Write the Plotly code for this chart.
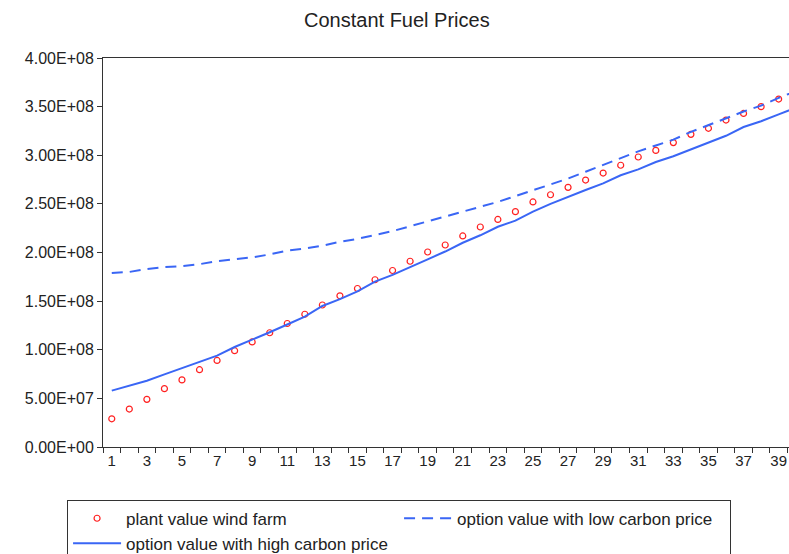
import plotly.graph_objects as go

years = list(range(1, 41))

plant_value = [
    0.29e8, 0.39e8, 0.49e8, 0.60e8, 0.69e8, 0.795e8, 0.89e8, 0.99e8, 1.08e8, 1.175e8,
    1.27e8, 1.365e8, 1.46e8, 1.555e8, 1.63e8, 1.72e8, 1.815e8, 1.91e8, 2.005e8, 2.077e8,
    2.17e8, 2.262e8, 2.34e8, 2.42e8, 2.52e8, 2.594e8, 2.67e8, 2.745e8, 2.817e8, 2.897e8,
    2.982e8, 3.05e8, 3.13e8, 3.215e8, 3.277e8, 3.362e8, 3.43e8, 3.50e8, 3.578e8, 3.647e8,
]

option_low_carbon = [
    1.79e8, 1.80e8, 1.83e8, 1.85e8, 1.86e8, 1.88e8, 1.91e8, 1.93e8, 1.95e8, 1.98e8,
    2.02e8, 2.04e8, 2.07e8, 2.11e8, 2.14e8, 2.18e8, 2.22e8, 2.27e8, 2.32e8, 2.37e8,
    2.42e8, 2.47e8, 2.52e8, 2.58e8, 2.64e8, 2.70e8, 2.76e8, 2.83e8, 2.90e8, 2.97e8,
    3.04e8, 3.10e8, 3.16e8, 3.24e8, 3.31e8, 3.38e8, 3.45e8, 3.51e8, 3.59e8, 3.66e8,
]

option_high_carbon = [
    0.58e8, 0.627e8, 0.682e8, 0.747e8, 0.809e8, 0.877e8, 0.939e8, 1.028e8, 1.10e8, 1.18e8,
    1.26e8, 1.34e8, 1.45e8, 1.52e8, 1.60e8, 1.70e8, 1.77e8, 1.854e8, 1.93e8, 2.01e8,
    2.10e8, 2.177e8, 2.265e8, 2.327e8, 2.42e8, 2.50e8, 2.574e8, 2.643e8, 2.71e8, 2.794e8,
    2.855e8, 2.93e8, 2.99e8, 3.06e8, 3.13e8, 3.20e8, 3.29e8, 3.35e8, 3.42e8, 3.49e8,
]

y_ticks = [i * 0.5e8 for i in range(9)]
x_labels = list(range(1, 40, 2))

BLUE = "#3a66f5"

fig = go.Figure()
fig.add_trace(go.Scatter(
    x=years, y=plant_value, mode="markers", name="plant value wind farm",
    marker=dict(symbol="circle-open", size=6, color="#ff2020", line=dict(width=1.2)),
))
fig.add_trace(go.Scatter(
    x=years, y=option_low_carbon, mode="lines", name="option value with low carbon price",
    line=dict(color=BLUE, width=2, dash="11px,7px"),
))
fig.add_trace(go.Scatter(
    x=years, y=option_high_carbon, mode="lines", name="option value with high carbon price",
    line=dict(color=BLUE, width=2),
))

fig.update_layout(
    width=789, height=554,
    margin=dict(l=103, r=0, t=58, b=107, autoexpand=False),
    plot_bgcolor="white", paper_bgcolor="white",
    font=dict(family="Liberation Sans, Arial, sans-serif", size=15, color="#222"),
    title=dict(text="Constant Fuel Prices", x=0.503, xanchor="center",
               y=0.964, yanchor="middle", font=dict(size=20, color="#222")),
    showlegend=True,
    legend=dict(
        orientation="h", xref="container", yref="container",
        x=0.085, xanchor="left", y=0.098, yanchor="top",
        entrywidth=268, itemwidth=48, bordercolor="#333", borderwidth=1,
        font=dict(size=17), tracegroupgap=0,
    ),
)

fig.update_xaxes(
    range=[0.5, 39.59], tickvals=x_labels, ticktext=[str(v) for v in x_labels],
    ticks="", showgrid=False, zeroline=False, automargin=False,
    showline=True, linecolor="#333", linewidth=1, mirror=True,
    minor=dict(tickvals=[v + 0.5 for v in range(0, 40)], ticks="outside", ticklen=5,
               tickcolor="#333", showgrid=False),
)
fig.update_yaxes(
    range=[0, 4e8], tickvals=y_ticks, ticktext=[f"{v:.2E}" for v in y_ticks],
    ticks="outside", ticklen=5, tickcolor="#333", showgrid=False, zeroline=False,
    showline=True, linecolor="#333", linewidth=1, automargin=False,
    tickfont=dict(size=16),
)

# page has a default 8px body margin; drop it so the figure fills the window
fig.write_html("out.html", config={"displayModeBar": False},
               post_script="document.body.style.margin='0';")
